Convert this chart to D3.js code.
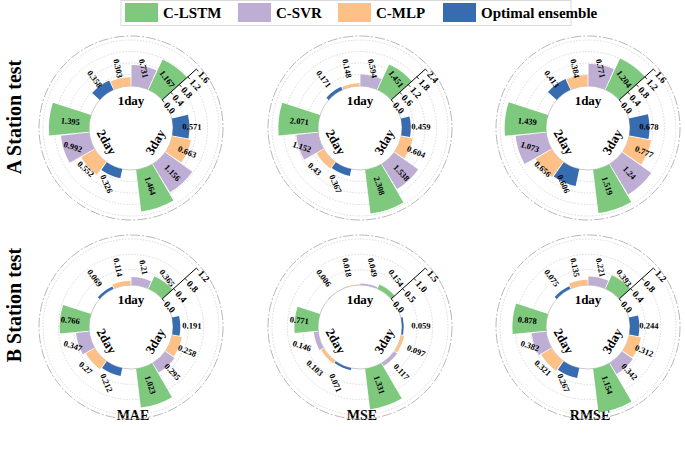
<!DOCTYPE html>
<html>
<head>
<meta charset="utf-8">
<script src="https://cdn.jsdelivr.net/npm/d3@7"></script>
<style>
  body { margin: 0; background: #fff; }
  text { font-family: "Liberation Serif", "Times New Roman", serif; font-weight: bold; }
</style>
</head>
<body>
<div id="chart"></div>
<script>
// Categories and models
var days = ["1day", "2day", "3day"];
var models = ["C-LSTM", "C-SVR", "C-MLP", "Optimal ensemble"];
var colors = ["#7fc97f", "#beaed4", "#fdc086", "#386cb0"];
var metrics = ["MAE", "MSE", "RMSE"];
var stations = ["A Station test", "B Station test"];

// values per day: [C-LSTM, C-SVR, C-MLP, Optimal ensemble]
var aMAE = [[1.167, 0.731, 0.303, 0.358], [1.395, 0.992, 0.552, 0.326], [1.464, 1.156, 0.663, 0.571]];
var aMSE = [[1.451, 0.594, 0.148, 0.171], [2.071, 1.152, 0.43, 0.367], [2.308, 1.538, 0.604, 0.459]];
var aRMSE = [[1.204, 0.771, 0.384, 0.413], [1.439, 1.073, 0.656, 0.606], [1.519, 1.24, 0.777, 0.678]];
var bMAE = [[0.365, 0.21, 0.114, 0.069], [0.766, 0.347, 0.27, 0.212], [1.023, 0.295, 0.258, 0.191]];
var bMSE = [[0.154, 0.049, 0.018, 0.006], [0.771, 0.146, 0.103, 0.071], [1.331, 0.117, 0.097, 0.059]];
var bRMSE = [[0.393, 0.221, 0.135, 0.075], [0.878, 0.382, 0.321, 0.267], [1.154, 0.342, 0.312, 0.244]];

// radial tick labels
var aMAETicks = [0, 0.4, 0.8, 1.2, 1.6];
var aMSETicks = [0, 0.6, 1.2, 1.8, 2.4];
var aRMSETicks = [0, 0.4, 0.8, 1.2, 1.6];
var bMAETicks = [0, 0.4, 0.8, 1.2];
var bMSETicks = [0, 0.5, 1.0, 1.5];
var bRMSETicks = [0, 0.4, 0.8, 1.2];

var svgWidth = 685, svgHeight = 450;
var colX = [131, 360, 588];
var rowY = [128, 327];
var rowLabelY = [117, 305];
var innerR = 42, maxR = 88, outerR = 92;
var axisAngle = 48;
var groupCenter = [0, -120, 125];   // degrees, clockwise from top
var dayLabelAngle = [0, -120, 120];
var rad = Math.PI / 180;

var svg = d3.select("#chart").append("svg")
  .attr("width", svgWidth)
  .attr("height", svgHeight);

// legend
var legend = svg.append("g");
legend.append("rect")
  .attr("x", 121).attr("y", 0.5).attr("width", 450).attr("height", 25)
  .attr("fill", "none").attr("stroke", "#d9d9d9");
var legendX = d3.scaleOrdinal().domain(models).range([125, 238, 338, 443]);
models.forEach(function(m, i) {
  legend.append("rect")
    .attr("x", legendX(m)).attr("y", 3)
    .attr("width", 33).attr("height", 19)
    .attr("fill", colors[i]);
  legend.append("text")
    .attr("x", legendX(m) + 38).attr("y", 18)
    .attr("font-size", 15)
    .text(m);
});

// row and column titles
stations.forEach(function(s, i) {
  svg.append("text")
    .attr("transform", "translate(21," + rowLabelY[i] + ") rotate(-90)")
    .attr("text-anchor", "middle")
    .attr("font-size", 20)
    .text(s);
});
metrics.forEach(function(m, i) {
  svg.append("text")
    .attr("x", colX[i] + 2).attr("y", 420)
    .attr("text-anchor", "middle")
    .attr("font-size", 14)
    .text(m);
});

var panels = [
  { r: 0, c: 0, data: aMAE, ticks: aMAETicks },
  { r: 0, c: 1, data: aMSE, ticks: aMSETicks },
  { r: 0, c: 2, data: aRMSE, ticks: aRMSETicks },
  { r: 1, c: 0, data: bMAE, ticks: bMAETicks },
  { r: 1, c: 1, data: bMSE, ticks: bMSETicks },
  { r: 1, c: 2, data: bRMSE, ticks: bRMSETicks }
];

function pt(r, deg) {
  return [r * Math.sin(deg * rad), -r * Math.cos(deg * rad)];
}
function upright(a) {
  while (a > 180) a -= 360;
  while (a <= -180) a += 360;
  if (a > 90) a -= 180;
  if (a < -90) a += 180;
  return a;
}

panels.forEach(function(p) {
  var g = svg.append("g")
    .attr("transform", "translate(" + colX[p.c] + "," + rowY[p.r] + ")");

  var yScale = d3.scaleLinear()
    .domain([0, d3.max(p.ticks)])
    .range([innerR, maxR]);

  // outer frame and grid circles
  g.append("circle").attr("r", outerR)
    .attr("fill", "none").attr("stroke", "#a6a6a6").attr("stroke-width", 0.8)
    .attr("stroke-dasharray", "10,2,2,2");
  g.selectAll(".grid")
    .data(p.ticks.slice(1))
    .enter().append("circle")
    .attr("r", function(d) { return yScale(d); })
    .attr("fill", "none").attr("stroke", "#c8c8c8").attr("stroke-width", 0.7)
    .attr("stroke-dasharray", "1.5,1.5");
  g.append("circle").attr("r", innerR)
    .attr("fill", "none").attr("stroke", "#bdbdbd").attr("stroke-width", 0.8);

  // bars
  days.forEach(function(day, di) {
    var center = groupCenter[di];
    var angle = d3.scaleBand()
      .domain(models)
      .range([center + 48, center - 48])
      .paddingInner(0.04);
    var arc = d3.arc().innerRadius(innerR);

    var rows = models.map(function(m, mi) {
      return { model: m, value: p.data[di][mi], color: colors[mi] };
    });

    g.selectAll(".bar" + di)
      .data(rows)
      .enter().append("path")
      .attr("d", function(d) {
        var a0 = angle(d.model);
        return arc.outerRadius(yScale(d.value))
          .startAngle(a0 * rad)
          .endAngle((a0 + angle.bandwidth()) * rad)();
      })
      .attr("fill", function(d) { return d.color; });

    // value labels all read downward to the right
    g.selectAll(".lab" + di)
      .data(rows)
      .enter().append("text")
      .attr("transform", function(d) {
        var a = angle(d.model) + angle.bandwidth() / 2;
        var n = a;
        while (n > 180) n -= 360;
        while (n <= -180) n += 360;
        var xy = pt(61, a);
        return "translate(" + xy[0] + "," + xy[1] + ") rotate(" + Math.abs(Math.abs(n) - 90) + ")";
      })
      .attr("text-anchor", "middle")
      .attr("dominant-baseline", "central")
      .attr("font-size", 8.5)
      .text(function(d) { return d.value; });

    // day label
    var la = dayLabelAngle[di];
    var dxy = pt(28, la);
    g.append("text")
      .attr("transform", "translate(" + dxy[0] + "," + dxy[1] + ") rotate(" + upright(la) + ")")
      .attr("text-anchor", "middle")
      .attr("dominant-baseline", "central")
      .attr("font-size", 13)
      .text(day);
  });

  // radial axis
  var a0 = pt(innerR, axisAngle), a1 = pt(maxR, axisAngle);
  g.append("line")
    .attr("x1", a0[0]).attr("y1", a0[1]).attr("x2", a1[0]).attr("y2", a1[1])
    .attr("stroke", "#000").attr("stroke-width", 1);
  var perp = [Math.cos(axisAngle * rad), Math.sin(axisAngle * rad)];
  p.ticks.forEach(function(t) {
    var q = pt(yScale(t), axisAngle);
    g.append("line")
      .attr("x1", q[0]).attr("y1", q[1])
      .attr("x2", q[0] + perp[0] * 3).attr("y2", q[1] + perp[1] * 3)
      .attr("stroke", "#000").attr("stroke-width", 0.8);
    g.append("text")
      .attr("transform", "translate(" + (q[0] + perp[0] * 5) + "," + (q[1] + perp[1] * 5) + ") rotate(" + axisAngle + ")")
      .attr("dominant-baseline", "central")
      .attr("font-size", 9.5)
      .text(d3.format(".1f")(t));
  });
});
</script>
</body>
</html>
